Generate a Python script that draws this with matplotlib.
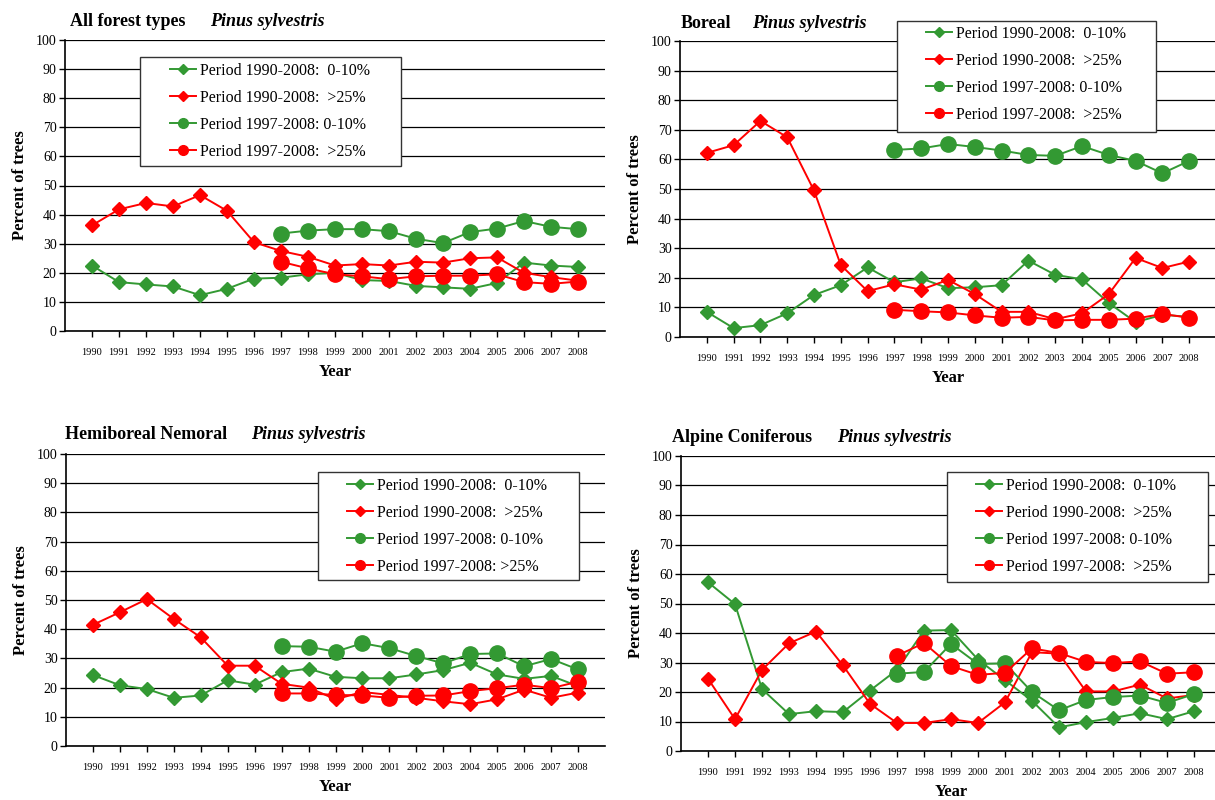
import numpy as np
import matplotlib
matplotlib.use("Agg")
import matplotlib.pyplot as plt
from matplotlib.patches import Rectangle
from matplotlib.lines import Line2D

plt.rcParams['font.family'] = ['Liberation Serif', 'DejaVu Serif']

years = [str(y) for y in range(1990, 2009)]
years_short = years[7:]  # 1997-2008

# All forest types
all_d_low = [22.5, 16.8, 16.0, 15.3, 12.3, 14.5, 18.0, 18.3, 19.5, 20.0, 17.5, 17.2, 15.5, 15.0, 14.5, 16.5, 23.5, 22.5, 22.0]
all_d_high = [36.3, 41.8, 44.0, 42.8, 46.7, 41.3, 30.5, 27.5, 25.5, 22.5, 23.0, 22.5, 23.8, 23.5, 25.0, 25.3, 20.0, 18.5, 17.3]
all_c_low = [33.5, 34.5, 35.0, 35.0, 34.3, 31.7, 30.2, 34.0, 35.2, 37.8, 35.8, 35.0]
all_c_high = [23.8, 21.5, 19.5, 18.8, 17.8, 18.8, 19.0, 19.0, 19.5, 16.8, 16.2, 17.0]

# Boreal
bor_d_low = [8.5, 3.0, 4.0, 8.0, 14.2, 17.5, 23.5, 18.5, 19.8, 16.5, 16.8, 17.5, 25.8, 21.0, 19.5, 11.5, 5.0, 7.5, 6.8]
bor_d_high = [62.2, 64.8, 73.0, 67.5, 49.5, 24.3, 15.5, 17.8, 16.0, 19.3, 14.5, 8.5, 8.5, 6.0, 8.0, 14.5, 26.7, 23.3, 25.5]
bor_c_low = [63.2, 63.7, 65.2, 64.2, 63.0, 61.5, 61.2, 64.5, 61.5, 59.5, 55.3, 59.5]
bor_c_high = [9.2, 8.7, 8.3, 7.3, 6.5, 6.8, 5.6, 5.8, 5.8, 6.2, 7.8, 6.5]

# Hemiboreal Nemoral
hem_d_low = [24.3, 20.8, 19.5, 16.5, 17.3, 22.5, 21.0, 25.3, 26.5, 23.7, 23.2, 23.2, 24.5, 26.0, 28.5, 24.5, 23.0, 24.0, 20.5]
hem_d_high = [41.5, 45.8, 50.3, 43.5, 37.2, 27.5, 27.5, 21.3, 20.0, 16.0, 18.5, 17.5, 16.5, 15.3, 14.3, 16.0, 19.3, 16.5, 18.3]
hem_c_low = [34.2, 34.0, 32.3, 35.2, 33.5, 30.8, 28.3, 31.5, 31.7, 27.3, 29.8, 26.2]
hem_c_high = [18.0, 18.0, 17.5, 17.3, 16.5, 17.2, 17.3, 18.8, 19.8, 21.0, 19.8, 22.0]

# Alpine Coniferous
alp_d_low = [57.2, 49.8, 21.0, 12.5, 13.5, 13.2, 20.5, 27.5, 40.8, 41.0, 31.0, 24.0, 17.0, 8.0, 9.8, 11.2, 12.8, 10.8, 13.5]
alp_d_high = [24.5, 10.8, 27.5, 36.5, 40.5, 29.0, 16.0, 9.5, 9.5, 10.8, 9.5, 16.5, 33.5, 33.0, 20.2, 20.2, 22.5, 17.8, 19.0]
alp_c_low = [26.2, 26.8, 36.3, 29.5, 29.7, 20.0, 13.8, 17.3, 18.3, 18.8, 16.3, 19.3]
alp_c_high = [32.3, 36.6, 28.8, 25.8, 26.5, 34.8, 33.2, 30.2, 29.8, 30.4, 26.2, 26.7]

labels = ["Period 1990-2008:  0-10%", "Period 1990-2008:  >25%",
          "Period 1997-2008: 0-10%", "Period 1997-2008:  >25%"]
labels_hem = labels[:3] + ["Period 1997-2008: >25%"]

GREEN = '#339933'
RED = '#ff0000'
W, H = 1215, 800

fig = plt.figure(figsize=(12.15, 8), dpi=100)


def px_rect(l, t, r, b):
    return [l / W, 1 - b / H, (r - l) / W, (b - t) / H]


panels = [
    # name, data, axes px (l, t, r, b), title pos, italic x, legend box, legend anchor, labels
    ("All forest types", (all_d_low, all_d_high, all_c_low, all_c_high),
     (65, 40, 605, 331), (70, 22), 210, (140, 57, 401, 166), (170, 63), labels),
    ("Boreal", (bor_d_low, bor_d_high, bor_c_low, bor_c_high),
     (680, 41, 1216, 337), (681, 24), 752, (897, 21, 1156, 132), (926, 26), labels),
    ("Hemiboreal Nemoral", (hem_d_low, hem_d_high, hem_c_low, hem_c_high),
     (66, 454, 605, 746), (65, 435), 251, (318, 472, 579, 580), (347, 478), labels_hem),
    ("Alpine Coniferous", (alp_d_low, alp_d_high, alp_c_low, alp_c_high),
     (681, 456, 1221, 751), (672, 438), 837, (947, 472, 1208, 582), (976, 478), labels),
]

x_all = np.arange(len(years))
x_short = np.arange(7, len(years))

for name, data, apos, tpos, ital_x, lbox, lanchor, labs in panels:
    ax = fig.add_axes(px_rect(*apos))
    d_low, d_high, c_low, c_high = data
    ax.plot(x_all, d_low, color=GREEN, lw=1.4, marker='D', ms=7.5, zorder=3)
    ax.plot(x_all, d_high, color=RED, lw=1.4, marker='D', ms=7.5, zorder=3)
    ax.plot(x_short, c_low, color=GREEN, lw=1.4, marker='o', ms=11, zorder=4)
    ax.plot(x_short, c_high, color=RED, lw=1.4, marker='o', ms=11, zorder=4)

    ax.set_xlim(-1, len(years))
    ax.set_ylim(0, 100)
    ax.set_yticks(range(0, 101, 10))
    ax.set_xticks(x_all)
    ax.set_xticklabels(years, fontsize=7.5)
    ax.tick_params(axis='y', labelsize=10, length=4, width=1, pad=2)
    ax.tick_params(axis='x', length=4, width=1, pad=8)
    ax.set_axisbelow(True)
    ax.yaxis.grid(True, color='black', lw=0.9)
    for s in ['top', 'right']:
        ax.spines[s].set_visible(False)
    ax.spines['left'].set_linewidth(1.2)
    ax.spines['bottom'].set_linewidth(1.2)
    ax.set_xlabel("Year", fontsize=12, fontweight='bold', labelpad=5)
    ax.set_ylabel("Percent of trees", fontsize=12, fontweight='bold', labelpad=6)

    # title in two parts
    fig.text(tpos[0] / W, 1 - tpos[1] / H, name, fontsize=13, fontweight='bold',
             ha='left', va='center')
    fig.text(ital_x / W, 1 - tpos[1] / H, "Pinus sylvestris", fontsize=13,
             fontweight='bold', fontstyle='italic', ha='left', va='center')

    # legend box
    l, t, r, b = lbox
    fig.patches.append(Rectangle((l / W, 1 - b / H), (r - l) / W, (b - t) / H,
                                 transform=fig.transFigure, facecolor='white',
                                 edgecolor='#333333', lw=1.0, zorder=4))
    handles = [
        Line2D([], [], color=GREEN, lw=1.4, marker='D', ms=5),
        Line2D([], [], color=RED, lw=1.4, marker='D', ms=5),
        Line2D([], [], color=GREEN, lw=1.4, marker='o', ms=7),
        Line2D([], [], color=RED, lw=1.4, marker='o', ms=7),
    ]
    leg = fig.legend(handles, labs, loc='upper left',
                     bbox_to_anchor=(lanchor[0] / W, 1 - lanchor[1] / H),
                     bbox_transform=fig.transFigure, frameon=False,
                     fontsize=11.5, borderpad=0, borderaxespad=0,
                     handlelength=1.6, handletextpad=0.3, labelspacing=0.68)
    leg.set_zorder(5)

fig.savefig("out.png", dpi=100)
